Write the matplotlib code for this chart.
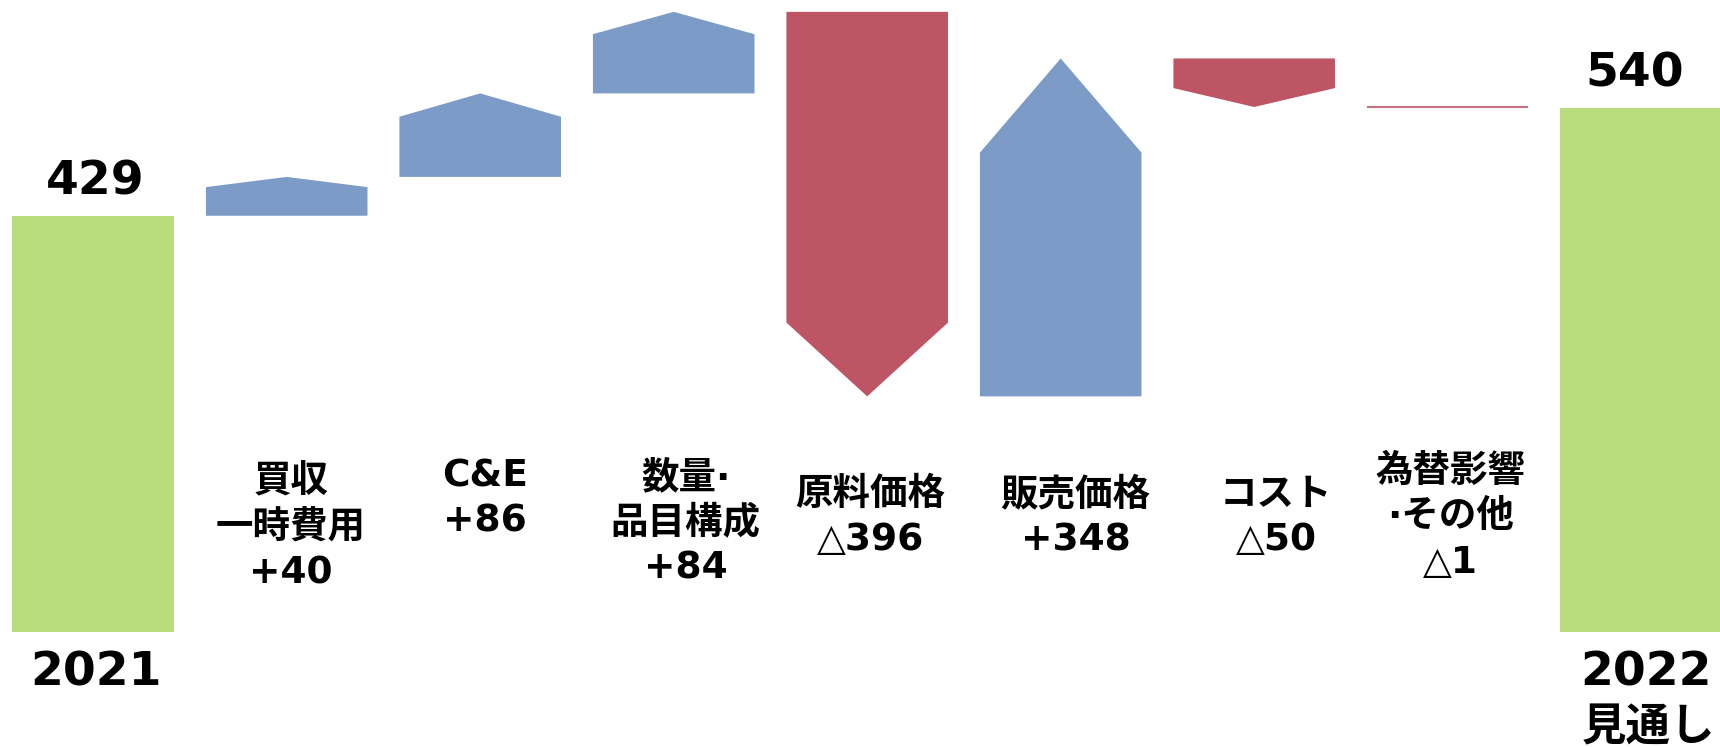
import matplotlib
matplotlib.use('Agg')
import matplotlib.pyplot as plt
from matplotlib.transforms import Affine2D, blended_transform_factory

# ---------------- data ----------------
categories = ['2021', '買収\n一時費用', 'C&E', '数量·\n品目構成', '原料価格',
              '販売価格', 'コスト', '為替影響\n·その他', '2022\n見通し']
start_total = 429
changes = [40, 86, 84, -396, 348, -50, -1]
end_total = 540

# ---------------- style / layout ----------------
W, H = 1720, 747
GREEN = '#B9DC7D'
BLUE = '#7C9CC7'
RED = '#BE5565'
LINE_RED = '#C9707F'
BAR_W = 0.835
HEADS = [10.5, 24, 23, 76, 97, 19.5, 0]          # arrow-head depth (value units)
LABEL_DX = [4, 5, 12, 3, 15, 22, 3]              # px offset of label centres
LABEL_Y0 = [479, 472.5, 474, 491, 491, 491, 468] # px (from top) of first line centre
LINE_PITCH = 45.5
FAM = ['DejaVu Sans', 'Noto Sans CJK JP']
CAT_FS = 27
BIG_FS = 34

fig = plt.figure(figsize=(W / 100, H / 100), dpi=100)
ax = fig.add_axes([0, 0, 1, 1])
ax.set_xlim(-0.4817, 8.4072)
ax.set_ylim(-118.1, 651.2)
ax.axis('off')

px_per_idx = W / (ax.get_xlim()[1] - ax.get_xlim()[0])
top_px = Affine2D().scale(1 / W, -1 / H).translate(0, 1) + fig.transFigure
trans = blended_transform_factory(ax.transData, top_px)

n = len(categories)
# total bars
ax.bar([0, n - 1], [start_total, end_total], width=BAR_W, color=GREEN,
       edgecolor='none', zorder=2)

# change arrows
level = start_total
for k, d in enumerate(changes):
    i = k + 1
    a, b = level, level + d
    xl, xr = i - BAR_W / 2, i + BAR_W / 2
    col = BLUE if d > 0 else RED
    if abs(d) <= 1:
        ym = (a + b) / 2
        ax.plot([xl, xr], [ym, ym], color=LINE_RED, lw=1.5, zorder=2,
                solid_capstyle='butt')
    else:
        s = 1 if d > 0 else -1
        sh = b - s * HEADS[k]
        ax.fill([xl, xr, xr, i, xl], [a, a, sh, b, sh], color=col,
                edgecolor='none', zorder=2)
    level = b

def fmt(d):
    return ('+%d' % d) if d > 0 else ('△%d' % (-d))

# category labels with change values
for k, d in enumerate(changes):
    i = k + 1
    lines = categories[i].split('\n') + [fmt(d)]
    x = i + LABEL_DX[k] / px_per_idx
    for j, t in enumerate(lines):
        yc = LABEL_Y0[k] + j * LINE_PITCH
        ax.text(x, yc + 0.37 * CAT_FS * 100 / 72, t, transform=trans,
                ha='center', va='baseline', fontsize=CAT_FS,
                fontweight='bold', family=FAM, color='black')

# total value labels
for i, v, dx in [(0, start_total, 2), (n - 1, end_total, -7)]:
    ax.annotate(str(v), xy=(i, v), xytext=(dx, 21), textcoords='offset pixels',
                ha='center', va='baseline', fontsize=BIG_FS, fontweight='bold',
                family=FAM)

# total category labels below
for i, dx in [(0, 3), (n - 1, 5)]:
    parts = categories[i].split('\n')
    ax.annotate(parts[0], xy=(i, 0), xytext=(dx, -53), textcoords='offset pixels',
                ha='center', va='baseline', fontsize=BIG_FS, fontweight='bold',
                family=FAM)
    if len(parts) > 1:
        ax.annotate(parts[1], xy=(i, 0), xytext=(dx + 2, -108),
                    textcoords='offset pixels', ha='center', va='baseline',
                    fontsize=32, fontweight='bold', family=FAM)

fig.savefig('out.png', dpi=100, facecolor='white')
